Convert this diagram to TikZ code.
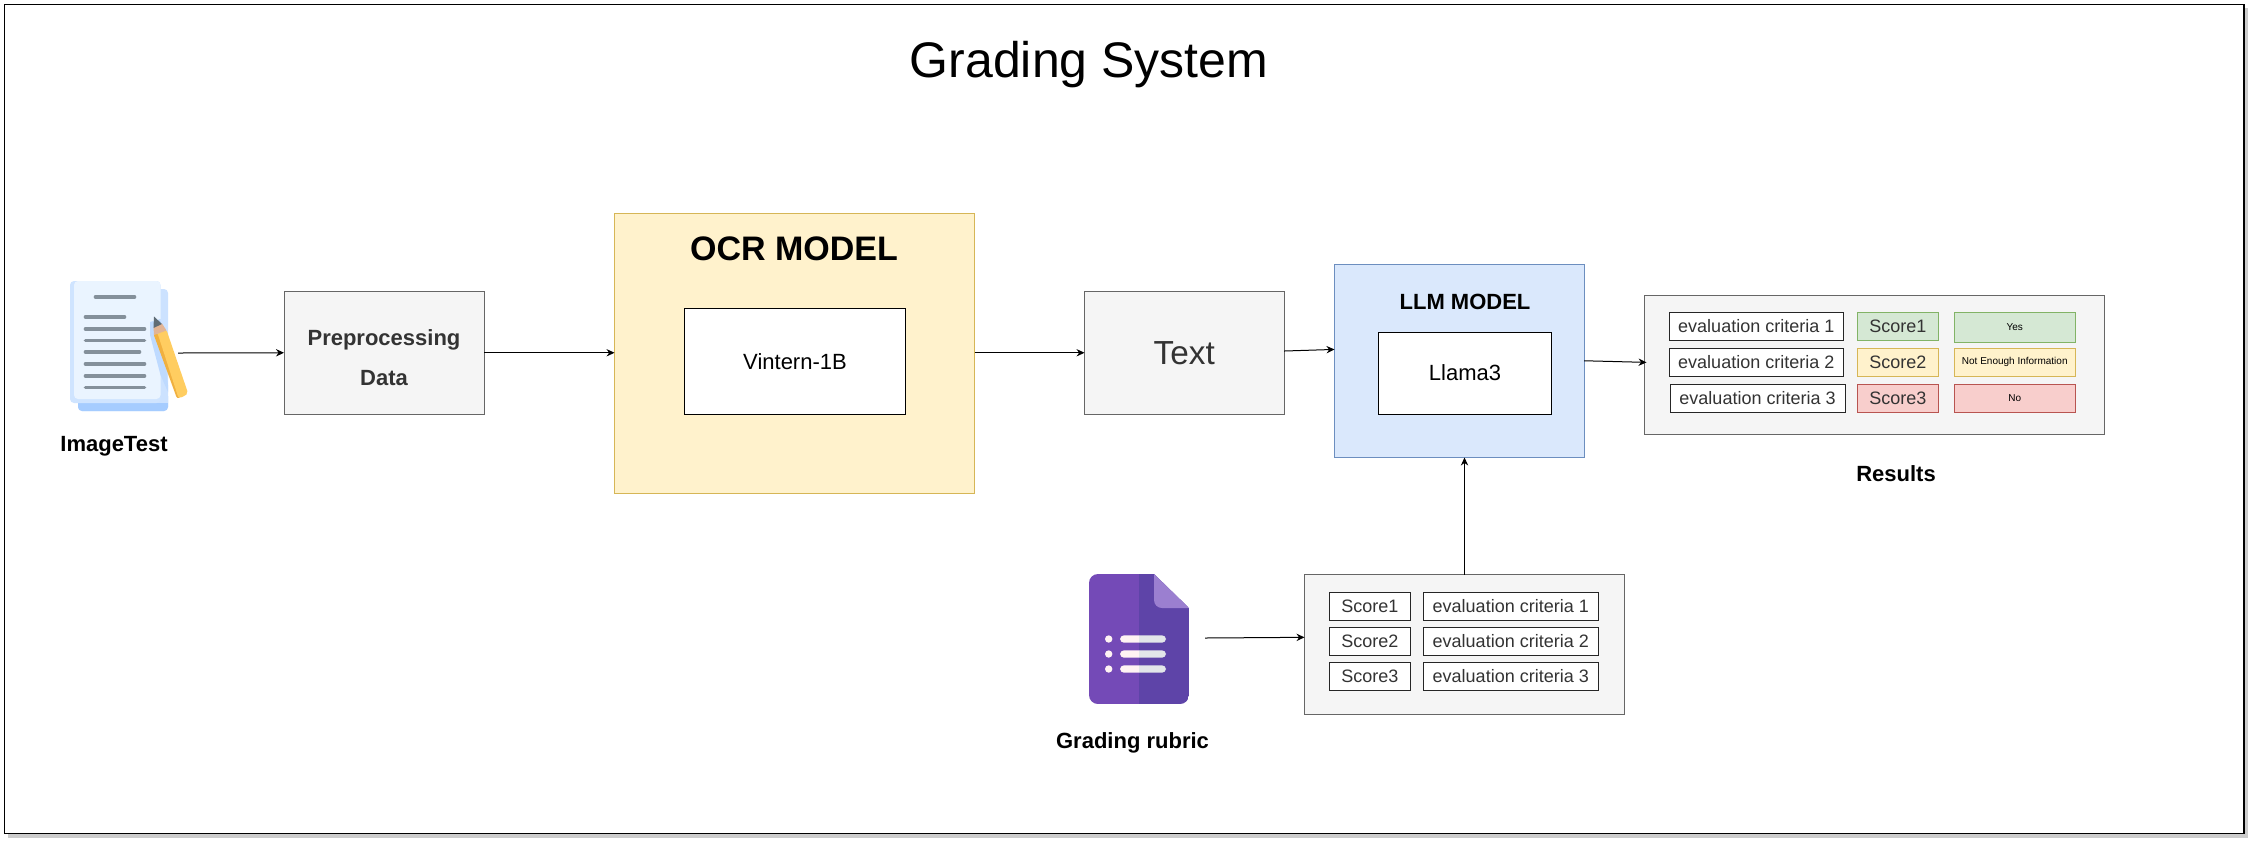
\documentclass[tikz,border=0pt]{standalone}
\usepackage{fontspec}
\setmainfont{Liberation Sans}
\usetikzlibrary{arrows.meta}
\definecolor{boxfill}{HTML}{F5F5F5}
\definecolor{boxline}{HTML}{666666}
\definecolor{boxtext}{HTML}{333333}
\definecolor{yelfill}{HTML}{FFF2CC}
\definecolor{yelline}{HTML}{D6B656}
\definecolor{bluefill}{HTML}{DAE8FC}
\definecolor{blueline}{HTML}{6C8EBF}
\definecolor{grnfill}{HTML}{D5E8D4}
\definecolor{grnline}{HTML}{82B366}
\definecolor{redfill}{HTML}{F8CECC}
\definecolor{redline}{HTML}{B85450}
\definecolor{docline}{HTML}{84909B}
\definecolor{sheetback}{HTML}{CCE2FF}
\definecolor{sheetbase}{HTML}{A5CCFF}
\definecolor{sheetedge}{HTML}{CFE4FF}
\definecolor{sheetface}{HTML}{EAF4FF}
\definecolor{sheetshade}{HTML}{BEDAFF}
\definecolor{pencildark}{HTML}{F0B03F}
\definecolor{pencilbody}{HTML}{FFCD60}
\definecolor{pencilwood}{HTML}{E2B494}
\definecolor{penciltip}{HTML}{5F6C76}
\definecolor{formA}{HTML}{744AB7}
\definecolor{formB}{HTML}{5E44A8}
\definecolor{formC}{HTML}{9B7FD0}
\definecolor{barlight}{HTML}{FFF3F3}
\definecolor{bardark}{HTML}{E2E6E9}
\tikzset{
  px/.style={line width=0.75pt},
  base/.style={px,draw,outer sep=0pt,inner sep=0pt,align=center},
  grey/.style={base,draw=boxline,fill=boxfill,text=boxtext},
  cell/.style={base,draw=black!85,fill=white,text=boxtext,font=\fontsize{13.5}{16}\selectfont},
  okbox/.style={base,draw=grnline,fill=grnfill},
  midbox/.style={base,draw=yelline,fill=yelfill},
  badbox/.style={base,draw=redline,fill=redfill},
  small/.style={font=\fontsize{7.5}{9}\selectfont,text=black},
  med/.style={font=\fontsize{13.5}{16}\selectfont,text=boxtext},
  model/.style={base,fill=white,draw=black,text=black,font=\fontsize{16.5}{20}\selectfont},
  caption/.style={inner sep=0pt,font=\fontsize{16.5}{20}\selectfont\bfseries,text=black},
  link/.style={px,draw=black,-{Stealth[length=6pt,width=5.5pt]}},
}
\newcommand{\pxbox}[7]{%
  \pgfmathsetmacro\pxW{(#5-#3)*0.75}%
  \pgfmathsetmacro\pxH{(#6-#4)*0.75}%
  \node[#2,minimum width=\pxW pt,minimum height=\pxH pt] (#1) at ({(#3+#5)/2},{(#4+#6)/2}) {#7};}
\begin{document}
\begin{tikzpicture}[x=0.75pt,y=-0.75pt]
\useasboundingbox (0,0) rectangle (2254,844);
\fill[white] (0,0) rectangle (2254,844);
% frame with shadow
\fill[black!20] (8,8) rectangle (2248,838);
\draw[line width=1pt,draw=black,fill=white] (4.5,4.5) rectangle (2244,833.5);
\node[inner sep=0pt,font=\fontsize{37.5}{44}\selectfont,text=black] (title) at (1089,64.5) {Grading System};
% pipeline
\pxbox{pre}{grey}{284}{291}{484}{414.5}{}
\node[inner sep=0pt,align=center,text=boxtext,font=\fontsize{16.5}{30}\selectfont\bfseries] (pret) at (384,358) {Preprocessing\\Data};
\pxbox{ocr}{base,draw=yelline,fill=yelfill}{614.5}{213}{974.5}{493}{}
\node[inner sep=0pt,font=\fontsize{25.5}{30}\selectfont\bfseries,text=black] (ocrt) at (794,249) {OCR MODEL};
\pxbox{vin}{model}{684.5}{308}{905.5}{414.5}{Vintern-1B}
\pxbox{txt}{grey,font=\fontsize{25}{29}\selectfont}{1084.5}{291}{1284}{414.5}{Text}
\pxbox{llm}{base,draw=blueline,fill=bluefill}{1334.5}{264}{1584}{457.5}{}
\node[inner sep=0pt,font=\fontsize{16.5}{20}\selectfont\bfseries,text=black] (llmt) at (1465,302) {LLM MODEL};
\pxbox{lam}{model}{1378.5}{332}{1551.5}{414}{Llama3}
% results
\pxbox{res}{grey}{1644.5}{295}{2104.5}{434}{}
\pxbox{re1}{cell}{1669}{312}{1843.5}{340}{evaluation criteria 1}
\pxbox{re2}{cell}{1669}{348}{1843.5}{376.5}{evaluation criteria 2}
\pxbox{re3}{cell}{1670}{384}{1845}{412.5}{evaluation criteria 3}
\pxbox{rs1}{okbox,med}{1857}{312}{1938.5}{340}{Score1}
\pxbox{rs2}{midbox,med}{1857}{348}{1938.5}{376.5}{Score2}
\pxbox{rs3}{badbox,med}{1857}{384}{1938.5}{412.5}{Score3}
\pxbox{ry1}{okbox,small}{1954}{312}{2075.5}{342}{Yes}
\pxbox{ry2}{midbox,small}{1954}{348}{2075.5}{376.5}{Not Enough Information}
\pxbox{ry3}{badbox,small}{1954}{384}{2075.5}{412.5}{No}
\node[caption] (rest) at (1896,473.5) {Results};
% rubric
\pxbox{rub}{grey}{1304.5}{574.5}{1624.5}{714}{}
\pxbox{rb1}{cell}{1329.5}{592}{1410}{620}{Score1}
\pxbox{rb2}{cell}{1329.5}{627}{1410}{655.5}{Score2}
\pxbox{rb3}{cell}{1329.5}{662.5}{1410}{690.5}{Score3}
\pxbox{rc1}{cell}{1423.5}{592}{1598}{620}{evaluation criteria 1}
\pxbox{rc2}{cell}{1423.5}{627}{1598}{655.5}{evaluation criteria 2}
\pxbox{rc3}{cell}{1423.5}{662.5}{1598}{690.5}{evaluation criteria 3}
\node[caption] (rubt) at (1132.5,743) {Grading rubric};
\node[caption] (imgt) at (114,446) {ImageTest};
% document icon
\fill[sheetback,rounded corners=3pt] (78,289) rectangle (168,411);
\fill[sheetbase,rounded corners=3pt] (78,392) rectangle (168,411);
\fill[sheetback] (150,392) rectangle (168,403);
\fill[sheetedge,rounded corners=3pt] (70,281) rectangle (160.5,403);
\fill[sheetface,rounded corners=3pt] (74,281) rectangle (160.5,399);
\fill[sheetshade] (150,322) -- (160.5,319) -- (168,385) -- (168,392) -- (160.5,375) -- (150,335) -- cycle;
\foreach \xa/\xb/\yy in {94/136/297,84/126/317,84/146/329,84/146/340.5,84/141/352,84/146/364,84/146/376,84/146/387.5}
  \draw[docline,line width=2.7pt,line cap=round] (\xa+1.5,\yy) -- (\xb-1.5,\yy);
% pencil
\fill[pencildark,rounded corners=1.5pt] (153.5,334) -- (158,333) -- (181,397) -- (177,398.5) -- cycle;
\fill[pencilbody,rounded corners=1.5pt] (157.5,333) -- (166.5,330) -- (188,393) -- (184,396.5) -- (178.5,398) -- cycle;
\fill[pencilwood] (153.5,327) -- (162,323.5) -- (166.5,330.5) -- (154,335) -- cycle;
\fill[penciltip] (154,316.5) -- (162,324) -- (153.5,328) -- cycle;
\coordinate (docout) at (178,353);
% form icon
\begin{scope}
\clip (1089,583) .. controls (1089,578) and (1093,574) .. (1098,574) -- (1154,574) -- (1189,608) -- (1189,695) .. controls (1189,700) and (1185,704) .. (1180,704) -- (1098,704) .. controls (1093,704) and (1089,700) .. (1089,695) -- cycle;
\fill[formA] (1089,574) rectangle (1139,704);
\fill[formB] (1139,574) rectangle (1189,704);
\fill[formC,rounded corners=6pt] (1154,560) -- (1154,608) -- (1200,608) -- (1200,560) -- cycle;
\end{scope}
\foreach \yy in {639,654,669} {
  \fill[barlight] (1108.7,\yy) circle[radius=3.7];
  \begin{scope}
  \clip (1110,\yy-5) rectangle (1139,\yy+5);
  \fill[barlight,rounded corners=3pt] (1120,\yy-3.7) rectangle (1166,\yy+3.7);
  \end{scope}
  \begin{scope}
  \clip (1139,\yy-5) rectangle (1170,\yy+5);
  \fill[bardark,rounded corners=3pt] (1120,\yy-3.7) rectangle (1166,\yy+3.7);
  \end{scope}
}
\coordinate (formout) at (1205,638);
% connectors
\draw[link] (docout) -- (pre.west);
\draw[link] (pre.east) -- (pre.east -| ocr.west);
\draw[link] (ocr.east |- txt.west) -- (txt.west);
\draw[link] ([yshift=1.3pt]txt.east) -- ([yshift=8.5pt]llm.west);
\draw[link] (llm.east) -- ([xshift=1.5pt,yshift=1.6pt]res.west);
\draw[link] (rub.north) -- (llm.south -| rub.north);
\draw[link] (formout) -- ([yshift=5.2pt]rub.west);
\end{tikzpicture}
\end{document}
